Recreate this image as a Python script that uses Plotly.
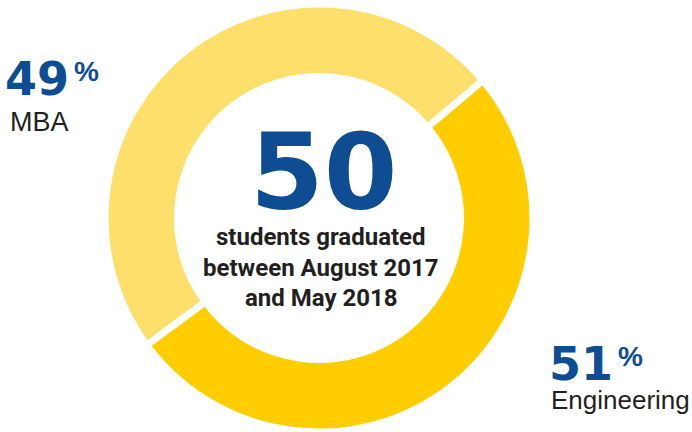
import plotly.graph_objects as go

W, H = 692, 432

programs = ["Engineering", "MBA"]
shares = [51, 49]
share_labels = ["51", "49"]
slice_colors = ["#FFCD00", "#FDE06B"]
total_students = "50"
center_lines = ["students graduated", "between August 2017", "and May 2018"]

NAVY = "#0F4D92"
DARK = "#231F20"

def px(x):
    return x / W

def py(y):
    return 1 - y / H

cx, cy, r = 319, 218, 214

fig = go.Figure(go.Pie(
    labels=programs,
    values=shares,
    sort=False,
    direction="clockwise",
    rotation=50,
    hole=0.661,
    marker=dict(colors=slice_colors, line=dict(color="white", width=7)),
    textinfo="none",
    hoverinfo="label+percent",
    showlegend=False,
    domain=dict(x=[px(cx - r), px(cx + r)], y=[max(0, py(cy + r)), py(cy - r)]),
))

ann = []
ann.append(dict(text=f"<b>{total_students}</b>", x=px(324), y=py(172), xref="paper", yref="paper",
                showarrow=False, xanchor="center", yanchor="middle",
                font=dict(family="DejaVu Sans", size=106, color=NAVY)))
for line, yy in zip(center_lines, [237, 268, 298]):
    ann.append(dict(text=f"<b>{line}</b>", x=px(321), y=py(yy), xref="paper", yref="paper",
                    showarrow=False, xanchor="center", yanchor="middle",
                    font=dict(family="Liberation Sans Narrow, Roboto, sans-serif", size=24, color=DARK)))

side = [
    (share_labels[1], programs[1], 3, 79, 122, 5, 27),
    (share_labels[0], programs[0], 547, 364, 400, 2, 26),
]
for val, name, xl, yn, ynm, dx, fs in side:
    ann.append(dict(text=f"<b>{val}</b>", x=px(xl), y=py(yn), xref="paper", yref="paper",
                    showarrow=False, xanchor="left", yanchor="middle",
                    font=dict(family="DejaVu Sans", size=46, color=NAVY)))
    ann.append(dict(text="<b>%</b>", x=px(xl + 69), y=py(yn - 8), xref="paper", yref="paper",
                    showarrow=False, xanchor="left", yanchor="middle",
                    font=dict(family="Liberation Sans", size=28, color=NAVY)))
    ann.append(dict(text=name, x=px(xl + dx), y=py(ynm), xref="paper", yref="paper",
                    showarrow=False, xanchor="left", yanchor="middle",
                    font=dict(family="Liberation Sans", size=fs, color=DARK)))

fig.update_layout(
    width=W, height=H,
    margin=dict(l=0, r=0, t=0, b=0),
    paper_bgcolor="white", plot_bgcolor="white",
    annotations=ann,
)

fig.write_html("out.html", config={"displayModeBar": False},
               post_script="document.body.style.margin='0';")
